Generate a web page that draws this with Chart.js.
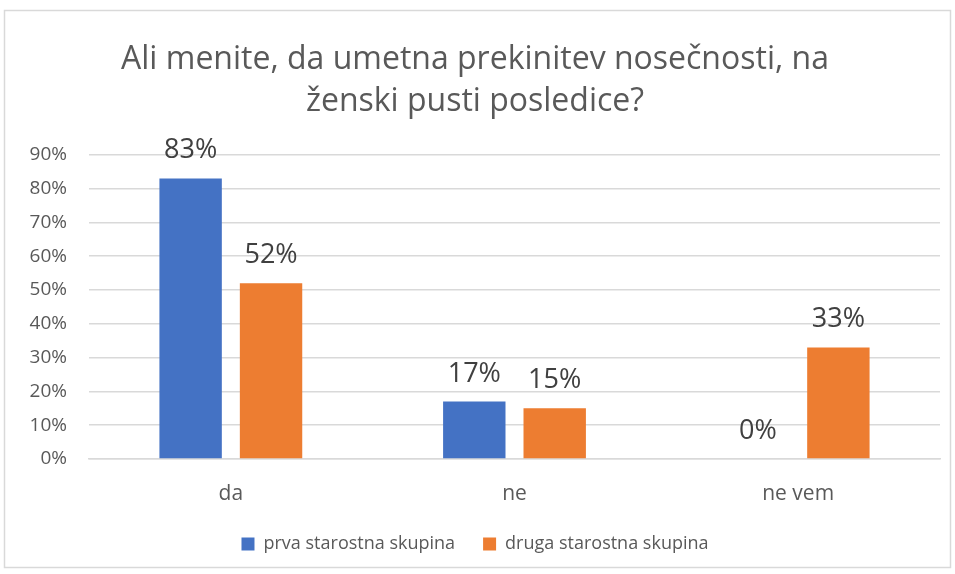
<!DOCTYPE html>
<html>
<head>
<meta charset="utf-8">
<script src="https://cdn.jsdelivr.net/npm/chart.js@4"></script>
<style>
  html, body { margin: 0; padding: 0; background: #fff; }
  #wrap { position: relative; width: 955px; height: 574px; }
</style>
</head>
<body>
<div id="wrap"><canvas id="myChart" width="955" height="574"></canvas></div>
<script>
// podatki
const categories = ['da', 'ne', 'ne vem'];
const prvaSkupina = [83, 17, 0];
const drugaSkupina = [52, 15, 33];
const seriesNames = ['prva starostna skupina', 'druga starostna skupina'];
const yTicks = [0, 10, 20, 30, 40, 50, 60, 70, 80, 90];

const FONT = '"Open Sans", Lato, sans-serif';

// okvir okoli grafa
const framePlugin = {
    id: 'frame',
    beforeDraw(chart) {
        const ctx = chart.ctx;
        ctx.save();
        ctx.fillStyle = '#fff';
        ctx.fillRect(0, 0, chart.width, chart.height);
        ctx.strokeStyle = '#d9d9d9';
        ctx.lineWidth = 1.5;
        ctx.strokeRect(4.5, 10.5, 946, 557);
        ctx.restore();
    }
};

// oznake vrednosti nad stolpci
const labelsPlugin = {
    id: 'valueLabels',
    afterDatasetsDraw(chart) {
        const ctx = chart.ctx;
        ctx.save();
        ctx.font = '27px ' + FONT;
        ctx.fillStyle = '#404040';
        ctx.textAlign = 'center';
        ctx.textBaseline = 'alphabetic';
        chart.data.datasets.forEach((ds, i) => {
            chart.getDatasetMeta(i).data.forEach((bar, j) => {
                ctx.fillText(ds.data[j] + '%', bar.x, bar.y - 20);
            });
        });
        ctx.restore();
    }
};

const ctx = document.getElementById('myChart').getContext('2d');
new Chart(ctx, {
    type: 'bar',
    data: {
        labels: categories,
        datasets: [{
            label: seriesNames[0],
            data: prvaSkupina,
            backgroundColor: '#4472C4',
            categoryPercentage: 0.567,
            barPercentage: 0.776
        }, {
            label: seriesNames[1],
            data: drugaSkupina,
            backgroundColor: '#ED7D31',
            categoryPercentage: 0.567,
            barPercentage: 0.776
        }]
    },
    options: {
        responsive: false,
        animation: false,
        layout: { padding: { left: 10, right: 15, top: 10, bottom: 11 } },
        plugins: {
            title: {
                display: true,
                text: ['Ali menite, da umetna prekinitev nosečnosti, na', 'ženski pusti posledice?'],
                color: '#595959',
                font: { family: FONT, size: 32, weight: 'normal', lineHeight: 1.34 },
                padding: { top: 28, bottom: 31 }
            },
            legend: {
                position: 'bottom',
                maxHeight: 62,
                labels: {
                    color: '#595959',
                    font: { family: FONT, size: 18 },
                    boxWidth: 13,
                    boxHeight: 13,
                    padding: 28
                }
            },
            tooltip: { enabled: false }
        },
        scales: {
            x: {
                afterFit(scale) { scale.height = 48; },
                grid: { display: false },
                border: { display: true, color: '#d9d9d9', width: 1.5 },
                ticks: { color: '#595959', font: { family: FONT, size: 21 }, padding: 14 }
            },
            y: {
                min: 0,
                max: 90,
                afterBuildTicks(scale) {
                    scale.ticks = yTicks.map(v => ({ value: v }));
                },
                afterFit(scale) { scale.width = 79; },
                grid: { color: '#d9d9d9', lineWidth: 1.5, drawTicks: false },
                border: { display: false },
                ticks: {
                    color: '#595959',
                    font: { family: FONT, size: 19 },
                    padding: 22,
                    callback: v => v + '%'
                }
            }
        }
    },
    plugins: [framePlugin, labelsPlugin]
});
</script>
</body>
</html>
